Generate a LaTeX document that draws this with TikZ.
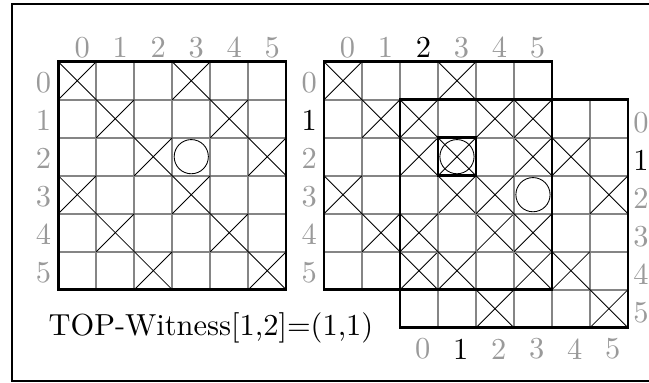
\documentclass[tikz,border=0pt]{standalone}
\definecolor{gridgray}{HTML}{858585}
\definecolor{labgray}{HTML}{9A9A9A}
\tikzset{
  gl/.style={draw=gridgray,line width=1.5pt},
  bord/.style={draw=black,line width=1.8pt},
  xmark/.style={draw=black,line width=0.65pt},
  lab/.style={text=labgray,font=\fontsize{10}{12}\selectfont,scale=2.28,transform shape,inner sep=0pt,anchor=center},
  labhi/.style={lab,text=black},
}
\newcommand\gridlines{%
  \foreach \i in {1,...,5}{\draw[gl] (\i,0) -- (\i,6); \draw[gl] (0,\i) -- (6,\i);}}
\newcommand\gridmarks{%
  \foreach \c/\r in {0/0,3/0,1/1,4/1,2/2,5/2,0/3,3/3,1/4,4/4,2/5,5/5}{%
    \draw[xmark] (\c,\r) -- (\c+1,\r+1); \draw[xmark] (\c+1,\r) -- (\c,\r+1);}
  \draw[xmark] (3.5,2.5) circle[radius=0.45];}
\begin{document}
\begin{tikzpicture}[x=0.0263158cm,y=-0.0263158cm]
\useasboundingbox (0,0) rectangle (649,383);
\clip (0,0) rectangle (649,383);
\draw[line width=1.5pt] (12,4.2) rectangle (700,381);
% left grid
\begin{scope}[shift={(58.3,61.7)},x=1cm,y=-1cm]
  \gridlines
  \gridmarks
  \draw[bord] (0,0) rectangle (6,6);
  \foreach \c in {0,...,5}{\node[lab] (ac\c) at (\c+0.63,-0.37) {\c};}
  \foreach \r in {0,...,5}{\node[lab] (ar\r) at (-0.39,\r+0.55) {\r};}
\end{scope}
% grid A
\begin{scope}[shift={(324,61.7)},x=1cm,y=-1cm]
  \gridlines
  \gridmarks
  \foreach \c in {0,1,3,4,5}{\node[lab] (bc\c) at (\c+0.62,-0.37) {\c};}
  \node[labhi] (bc2) at (2.62,-0.37) {2};
  \foreach \r in {0,2,3,4,5}{\node[lab] (br\r) at (-0.39,\r+0.55) {\r};}
  \node[labhi] (br1) at (-0.39,1.55) {1};
\end{scope}
% grid B
\begin{scope}[shift={(400,99.7)},x=1cm,y=-1cm]
  \gridlines
  \gridmarks
  \foreach \c in {0,2,3,4,5}{\node[lab] (cc\c) at (\c+0.6,6.56) {\c};}
  \node[labhi] (cc1) at (1.6,6.56) {1};
  \foreach \r in {0,2,3,4,5}{\node[lab] (cr\r) at (6.34,\r+0.6) {\r};}
  \node[labhi] (cr1) at (6.34,1.6) {1};
\end{scope}
\begin{scope}[shift={(324,61.7)},x=1cm,y=-1cm]
  \draw[bord] (0,0) rectangle (6,6);
  \draw[bord] (2,1) rectangle (8,7);
  \draw[bord] (3,2) rectangle (4,3);
\end{scope}
\node[anchor=base west,inner sep=0pt,font=\fontsize{10}{12}\selectfont,scale=2.28,transform shape] (caption) at (48,335) {TOP-Witness[1,2]=(1,1)};
\end{tikzpicture}
\end{document}
